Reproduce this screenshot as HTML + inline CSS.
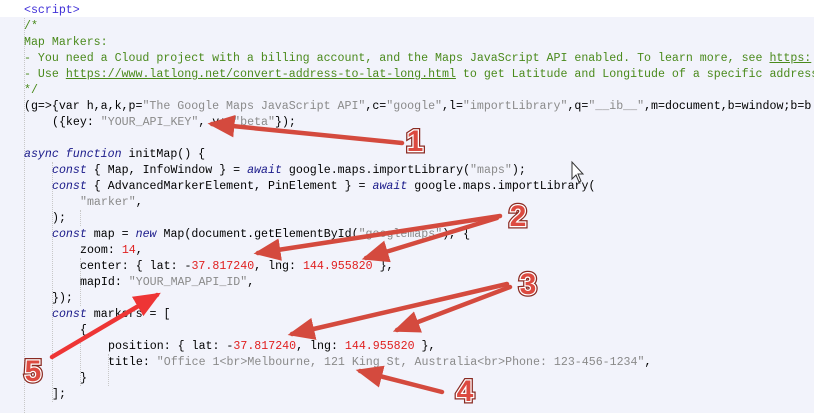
<!DOCTYPE html>
<html><head><meta charset="utf-8"><style>
html,body{margin:0;padding:0;}
body{width:814px;height:413px;overflow:hidden;background:#f2f3fb;position:relative;font-family:"Liberation Mono",monospace;font-size:11.62px;}
.top{position:absolute;left:0;top:0;width:814px;height:17px;background:#fff;}
.l{position:absolute;white-space:pre;line-height:16px;height:16px;color:#000;margin-top:1px;}
.c{color:#4a8a1c}
.t{color:#4030d8}
.k{color:#1a1a8a;font-style:italic}
.s{color:#8a8a8a}
.n{color:#e02020}
.u{text-decoration:underline}
.g{position:absolute;width:0;border-left:1px dotted #c8c8c8;}
svg{position:absolute;left:0;top:0}
</style></head><body>
<div class="top"></div>
<div class="g" style="left:24px;top:18px;height:395px"></div>
<div class="g" style="left:52px;top:162px;height:240px"></div>
<div class="g" style="left:80px;top:210px;height:16px"></div>
<div class="g" style="left:80px;top:258px;height:48px"></div>
<div class="g" style="left:80px;top:338px;height:48px"></div>
<div class="g" style="left:108px;top:354px;height:32px"></div>
<div class="l t" style="left:24px;top:2px">&lt;script&gt;</div>
<div class="l c" style="left:24px;top:18px">/*</div>
<div class="l c" style="left:24px;top:34px">Map Markers:</div>
<div class="l c" style="left:24px;top:50px">- You need a Cloud project with a billing account, and the Maps JavaScript API enabled. To learn more, see <span class="u">https:</span></div>
<div class="l c" style="left:24px;top:66px">- Use <span class="u">https://www.latlong.net/convert-address-to-lat-long.html</span> to get Latitude and Longitude of a specific address</div>
<div class="l c" style="left:24px;top:82px">*/</div>
<div class="l" style="left:24px;top:98px">(g=&gt;{var h,a,k,p=<span class="s">"The Google Maps JavaScript API"</span>,c=<span class="s">"google"</span>,l=<span class="s">"importLibrary"</span>,q=<span class="s">"__ib__"</span>,m=document,b=window;b=b</div>
<div class="l" style="left:52px;top:114px">({key: <span class="s">"YOUR_API_KEY"</span>, v: <span class="s">"beta"</span>});</div>
<div class="l" style="left:24px;top:146px"><span class="k">async function</span> initMap() {</div>
<div class="l" style="left:52px;top:162px"><span class="k">const</span> { Map, InfoWindow } = <span class="k">await</span> google.maps.importLibrary(<span class="s">"maps"</span>);</div>
<div class="l" style="left:52px;top:178px"><span class="k">const</span> { AdvancedMarkerElement, PinElement } = <span class="k">await</span> google.maps.importLibrary(</div>
<div class="l" style="left:80px;top:194px"><span class="s">"marker"</span>,</div>
<div class="l" style="left:52px;top:210px">);</div>
<div class="l" style="left:52px;top:226px"><span class="k">const</span> map = <span class="k">new</span> Map(document.getElementById(<span class="s">"googlemaps"</span>), {</div>
<div class="l" style="left:80px;top:242px">zoom: <span class="n">14</span>,</div>
<div class="l" style="left:80px;top:258px">center: { lat: -<span class="n">37.817240</span>, lng: <span class="n">144.955820</span> },</div>
<div class="l" style="left:80px;top:274px">mapId: <span class="s">"YOUR_MAP_API_ID"</span>,</div>
<div class="l" style="left:52px;top:290px">});</div>
<div class="l" style="left:52px;top:306px"><span class="k">const</span> markers = [</div>
<div class="l" style="left:80px;top:322px">{</div>
<div class="l" style="left:108px;top:338px">position: { lat: -<span class="n">37.817240</span>, lng: <span class="n">144.955820</span> },</div>
<div class="l" style="left:108px;top:354px">title: <span class="s">"Office 1&lt;br&gt;Melbourne, 121 King St, Australia&lt;br&gt;Phone: 123-456-1234"</span>,</div>
<div class="l" style="left:80px;top:370px">}</div>
<div class="l" style="left:52px;top:386px">];</div>

<svg width="814" height="413" viewBox="0 0 814 413">
<defs>
<marker id="a" markerWidth="6" markerHeight="5" refX="5" refY="2.5" orient="auto" markerUnits="strokeWidth">
<path d="M0,0 L6,2.5 L0,5 Z" fill="#d44a3e"/>
</marker>
<marker id="b" markerWidth="6" markerHeight="5" refX="5" refY="2.5" orient="auto" markerUnits="strokeWidth">
<path d="M0,0 L6,2.5 L0,5 Z" fill="#ee3535"/>
</marker>
</defs>
<g stroke="#d44a3e" stroke-width="4.5" stroke-linecap="round" fill="none">
<line x1="402" y1="143" x2="212" y2="124" marker-end="url(#a)"/>
<line x1="500" y1="216" x2="258" y2="253" marker-end="url(#a)"/>
<line x1="497" y1="218" x2="366" y2="258" marker-end="url(#a)"/>
<line x1="507" y1="284" x2="292" y2="334" marker-end="url(#a)"/>
<line x1="510" y1="287" x2="397" y2="330" marker-end="url(#a)"/>
<line x1="442" y1="392" x2="360" y2="371" marker-end="url(#a)"/>
</g>
<line x1="52" y1="357" x2="157" y2="295" stroke="#ee3535" stroke-width="4.5" stroke-linecap="round" marker-end="url(#b)"/>
<g font-family="Liberation Sans, sans-serif" font-weight="bold" font-size="30" fill="#d8463c" stroke="#8a2a22" stroke-width="5" paint-order="stroke" text-anchor="middle">
<text x="415" y="151">1</text>
<text x="518" y="226">2</text>
<text x="528" y="294">3</text>
<text x="465" y="401">4</text>
<text x="33" y="381">5</text>
</g>
<g font-family="Liberation Sans, sans-serif" font-weight="bold" font-size="30" fill="#dc4a40" stroke="#fff" stroke-width="2.5" paint-order="stroke" text-anchor="middle">
<text x="415" y="151">1</text>
<text x="518" y="226">2</text>
<text x="528" y="294">3</text>
<text x="465" y="401">4</text>
<text x="33" y="381">5</text>
</g>
<path d="M572,162 L572,179 L576,175 L579,182 L581,181 L578,174 L583,174 Z" fill="#fff" stroke="#333" stroke-width="1"/>
</svg>
</body></html>
